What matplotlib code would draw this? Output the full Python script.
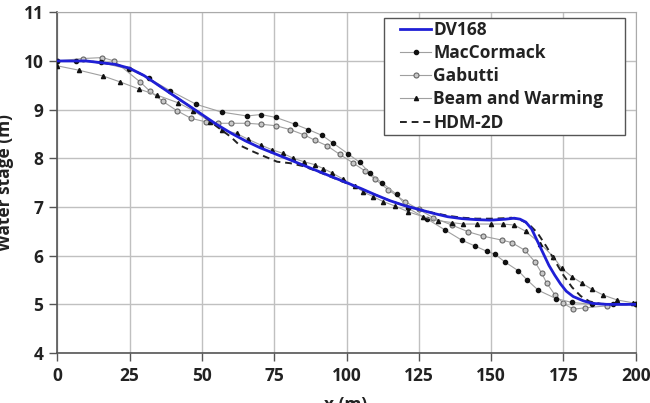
import numpy as np
import matplotlib
matplotlib.use("Agg")
import matplotlib.pyplot as plt
from matplotlib.patches import Rectangle

plt.rcParams['font.family'] = ['Open Sans', 'DejaVu Sans']
plt.rcParams['font.weight'] = 'bold'

# DV168 (blue solid)
dv_x = [0, 10, 20, 25, 30, 35, 40, 45, 50, 55, 60, 65, 70, 75, 80, 85, 90, 95, 100,
        105, 110, 115, 120, 125, 130, 135, 140, 145, 150, 155, 158, 160, 162, 164, 166,
        168, 170, 172, 174, 176, 178.4, 182, 185, 190, 200]
dv_y = [10.0, 10.0, 9.93, 9.85, 9.7, 9.5, 9.3, 9.1, 8.9, 8.7, 8.52, 8.36, 8.22, 8.1,
        7.98, 7.86, 7.74, 7.62, 7.5, 7.38, 7.25, 7.13, 7.03, 6.95, 6.87, 6.8, 6.76, 6.74,
        6.73, 6.75, 6.77, 6.75, 6.69, 6.55, 6.3, 6.05, 5.8, 5.6, 5.42, 5.27, 5.16, 5.07,
        5.02, 5.0, 5.0]

# MacCormack
mc_x = [0, 6.5, 15, 24.8, 31.7, 39, 48, 56.8, 65.6, 70.4, 75.6, 82.2, 86.8, 91.6, 95.4,
        100.6, 104.5, 108, 112.2, 117.3, 121.4, 128, 134, 139.8, 144.4, 148.5, 151.3,
        154.8, 159.4, 162.3, 166.3, 172.4, 177.9, 185, 192, 200]
mc_y = [10.0, 10.0, 9.97, 9.83, 9.64, 9.39, 9.11, 8.95, 8.87, 8.9, 8.84, 8.7, 8.59, 8.47,
        8.31, 8.09, 7.92, 7.7, 7.5, 7.26, 6.97, 6.75, 6.53, 6.32, 6.2, 6.09, 6.03, 5.87,
        5.69, 5.51, 5.29, 5.12, 5.04, 5.0, 5.0, 5.0]

# Gabutti
gb_x = [0, 8.8, 15.6, 19.7, 28.6, 32, 36.5, 41.3, 46.3, 51.3, 55.5, 60.2, 65.6, 70.4,
        75.6, 80.5, 85.4, 89.1, 93.2, 97.7, 102.4, 106.4, 109.9, 114.5, 120.3, 125, 130,
        136.4, 142.1, 147.3, 153.7, 157.1, 161.7, 165.2, 167.5, 169.2, 172, 175, 178.4,
        182.6, 190.2, 200]
gb_y = [10.0, 10.05, 10.07, 10.0, 9.57, 9.38, 9.17, 8.98, 8.82, 8.75, 8.72, 8.72, 8.72,
        8.7, 8.67, 8.59, 8.48, 8.37, 8.26, 8.08, 7.9, 7.74, 7.57, 7.35, 7.11, 6.95, 6.78,
        6.63, 6.49, 6.4, 6.32, 6.27, 6.11, 5.87, 5.64, 5.44, 5.2, 5.02, 4.9, 4.93, 4.97, 5.0]

# Beam and Warming
bw_x = [0, 7.5, 15.9, 21.7, 28.4, 34.4, 41.8, 47, 52.8, 56.8, 62, 66, 70.5, 74.1, 78.1,
        81.6, 85.3, 89, 92, 95, 98.9, 102.9, 105.8, 109.3, 112.7, 116.8, 121.4, 126.6,
        131.7, 136.4, 140.4, 145, 150, 154, 158, 162, 167, 171.5, 174.4, 177.9, 181.3,
        184.8, 188.8, 193.6, 199.2]
bw_y = [9.9, 9.81, 9.69, 9.57, 9.42, 9.3, 9.14, 8.98, 8.75, 8.59, 8.51, 8.39, 8.27, 8.18,
        8.1, 8.0, 7.93, 7.87, 7.79, 7.7, 7.57, 7.43, 7.31, 7.21, 7.11, 7.02, 6.9, 6.8,
        6.72, 6.68, 6.65, 6.65, 6.65, 6.65, 6.63, 6.5, 6.25, 5.98, 5.74, 5.57, 5.44, 5.31,
        5.19, 5.09, 5.03]

# HDM-2D (dashed)
hd_x = [0, 10, 20, 25, 30, 40, 50, 55, 60, 63, 68, 72, 76, 80.5, 85, 90, 95, 100, 105,
        110, 115, 120, 125, 130, 135, 140, 145, 150, 155, 157, 160, 163, 166, 169, 172,
        175, 178, 181, 184, 188, 200]
hd_y = [10.0, 10.0, 9.93, 9.85, 9.7, 9.3, 8.9, 8.66, 8.44, 8.27, 8.13, 8.03, 7.93, 7.9,
        7.84, 7.73, 7.61, 7.49, 7.37, 7.25, 7.13, 7.03, 6.95, 6.88, 6.82, 6.78, 6.76,
        6.76, 6.77, 6.78, 6.74, 6.65, 6.47, 6.2, 5.9, 5.6, 5.35, 5.17, 5.06, 5.01, 5.0]

fig = plt.figure(figsize=(6.5, 4.03), dpi=100)
ax = fig.add_axes([0.0882, 0.124, 0.8898, 0.8455])

thin = '#a0a0a0'
ax.plot(dv_x, dv_y, color='#1f1fd6', lw=2, label='DV168', zorder=5)
ax.plot(mc_x, mc_y, color=thin, lw=0.8, marker='o', ms=3.0, mfc='#111111',
        mec='#111111', label='MacCormack', zorder=4)
ax.plot(gb_x, gb_y, color=thin, lw=0.8, marker='o', ms=3.6, mfc='#c8c8c8',
        mec='#666666', mew=0.8, label='Gabutti', zorder=3)
ax.plot(bw_x, bw_y, color=thin, lw=0.8, marker='^', ms=3.0, mfc='#111111',
        mec='#111111', label='Beam and Warming', zorder=4)
ax.plot(hd_x, hd_y, color='#222222', lw=1.4, ls=(0, (3.5, 2.5)), label='HDM-2D', zorder=4)

ax.set_xlim(0, 200)
ax.set_ylim(4, 11)
ax.set_xticks(np.arange(0, 201, 25))
ax.set_yticks(np.arange(4, 12, 1))
ax.grid(True, color='#c0c0c0', lw=1)
ax.set_axisbelow(True)
for s in ['top', 'right']:
    ax.spines[s].set_color('#aaaaaa')
for s in ['left', 'bottom']:
    ax.spines[s].set_color('#555555')
    ax.spines[s].set_linewidth(1.2)
ax.tick_params(axis='both', labelsize=12.5, length=6, width=1, color='#555555', pad=4)
for lab in ax.get_xticklabels() + ax.get_yticklabels():
    lab.set_fontweight('bold')
    lab.set_color('#222222')

fig.text(0.008, 0.547, 'Water stage (m)', rotation=90, ha='center', va='center',
         fontsize=12.5, fontweight='bold', color='#222222')
fig.text(0.532, 0.017, 'x (m)', ha='center', va='top', fontsize=12.5,
         fontweight='bold', color='#222222')

# legend box drawn by hand so the padding can differ left/right vs top/bottom
box = Rectangle((0.565, 0.640), 0.4165, 0.343, transform=ax.transAxes,
                facecolor='white', edgecolor='#555555', lw=1, zorder=9)
ax.add_patch(box)
leg = ax.legend(loc='upper left', bbox_to_anchor=(0.5925, 0.975), fontsize=12.5,
                handlelength=1.8, handletextpad=0.1, labelspacing=0.3,
                borderpad=0, frameon=False, borderaxespad=0)
leg.set_zorder(10)
for t in leg.get_texts():
    t.set_fontweight('bold')
    t.set_color('#222222')

fig.savefig('out.png', dpi=100)
